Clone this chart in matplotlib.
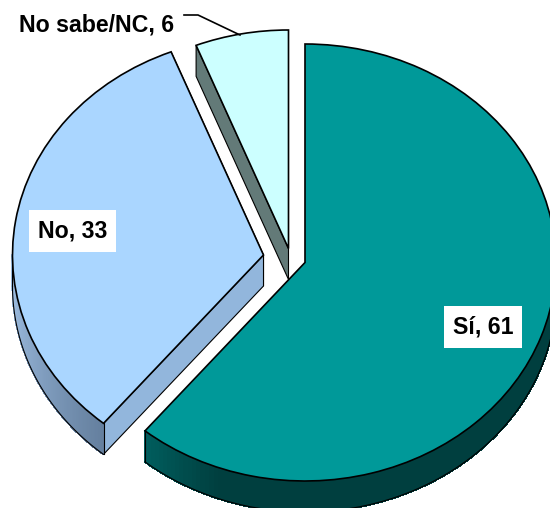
import numpy as np
import matplotlib
matplotlib.use('Agg')
import matplotlib.pyplot as plt
from matplotlib.collections import PolyCollection
from matplotlib.colors import to_rgb
from matplotlib.patches import Polygon

# chart values
categories = ['Sí', 'No', 'No sabe/NC']
values = [61, 33, 6]

# colours of each slice
top_colors = ['#009999', '#AAD6FF', '#CCFFFF']
face_colors = ['#005050', '#92B6DC', '#637A78']
arc_left = ['#005E5E', '#A6C6EA', '#637A78']
arc_right = ['#003F3F', '#65809F', '#637A78']
# part of the rim over which the shading runs (0-1), the rest stays at arc_right
shade_span = [0.15, 1.0, 1.0]

# picture layout in pixels
W, H = 550, 508
RX, RY = 251, 218.5
DEPTH = 31
tips = [(305, 262.5), (263.5, 255), (288.5, 248.5)]
label_pos = [(483, 327), (72.5, 231), (97, 25)]
leader = [(184, 15), (198, 15), (240, 35)]


def unit(x, y):
    # pixel position to pie units
    return x / RX, (H - y) / RY


fig = plt.figure(figsize=(W / 100, H / 100), dpi=100)
ax = fig.add_axes([0, 0, 1, 1])

wedges, _ = ax.pie(values, startangle=90, counterclock=False, radius=1,
                   colors=top_colors,
                   wedgeprops={'edgecolor': 'black', 'linewidth': 1.2})

dz = DEPTH / RY
# draw back to front
for i in [2, 1, 0]:
    w = wedges[i]
    cx, cy = unit(*tips[i])
    w.set_center((cx, cy))
    w.set_zorder(5 + (2 - i) * 3)
    base = 3 + (2 - i) * 3

    # flat side along the straight edges that face the viewer
    for th in (w.theta1, w.theta2):
        if 100 < th % 360 < 235 and i != 0:
            a = np.radians(th)
            ex, ey = cx + np.cos(a), cy + np.sin(a)
            ax.add_patch(Polygon([(cx, cy), (ex, ey), (ex, ey - dz), (cx, cy - dz)],
                                 closed=True, facecolor=face_colors[i], edgecolor='black',
                                 linewidth=0.8, zorder=base))

    # outer rim, only the lower half of the ellipse can be seen
    start = w.theta1 % 360
    stop = start + (w.theta2 - w.theta1)
    lo, hi = np.radians(max(start, 180)), np.radians(min(stop, 360))
    if hi <= lo:
        continue
    steps = np.linspace(lo, hi, 120)
    c0, c1 = np.array(to_rgb(arc_left[i])), np.array(to_rgb(arc_right[i]))
    quads, cols = [], []
    for k in range(len(steps) - 1):
        f = min(1, k / (len(steps) - 2) / shade_span[i])
        cols.append(c0 + (c1 - c0) * f)
        a0, a1 = steps[k], steps[k + 1]
        quads.append([(cx + np.cos(a0), cy + np.sin(a0)), (cx + np.cos(a1), cy + np.sin(a1)),
                      (cx + np.cos(a1), cy + np.sin(a1) - dz), (cx + np.cos(a0), cy + np.sin(a0) - dz)])
    ax.add_collection(PolyCollection(quads, facecolors=cols, edgecolors=cols, linewidths=0.8,
                                     antialiaseds=False, zorder=base))
    # outline of the rim
    ax.plot(cx + np.cos(steps), cy + np.sin(steps) - dz, color='black', lw=0.8, zorder=base + 1)
    for a in (lo, hi):
        ax.plot([cx + np.cos(a)] * 2, [cy + np.sin(a), cy + np.sin(a) - dz], color='black',
                lw=0.8, zorder=base + 1)

ax.set_aspect('auto')
ax.set_xlim(0, W / RX)
ax.set_ylim(0, H / RY)
ax.axis('off')

# labels
for i, name in enumerate(categories):
    x, y = unit(*label_pos[i])
    box = {'facecolor': 'white', 'edgecolor': 'none', 'pad': 6.5}
    ax.text(x, y, f'{name}, {values[i]}', ha='center', va='center', fontsize=16.7,
            fontweight='bold', family='Liberation Sans',
            bbox=box if i < 2 else None, zorder=30)

# leader line for the small slice
lx, ly = zip(*[unit(*p) for p in leader])
ax.plot(lx, ly, color='black', lw=1.2, zorder=30)

plt.savefig('out.png', dpi=100)
